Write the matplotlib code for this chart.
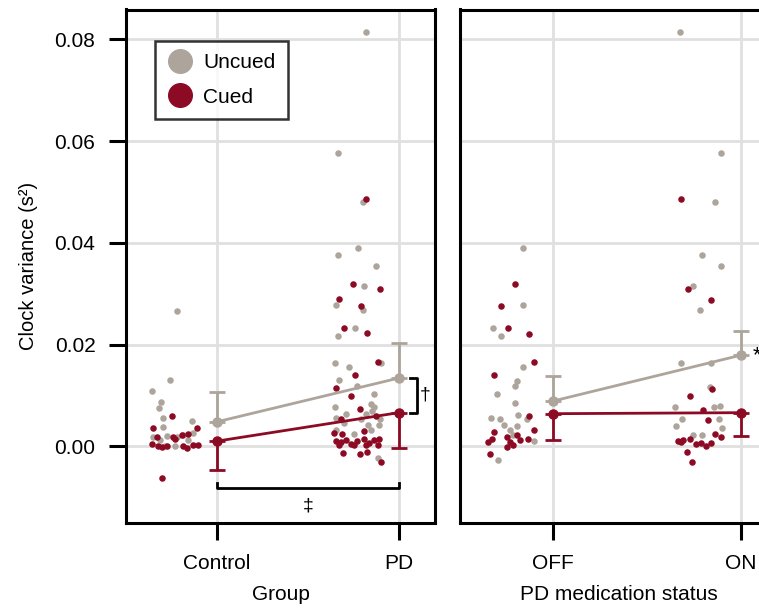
import numpy as np
import matplotlib
matplotlib.use("Agg")
from matplotlib import pyplot as plt

plt.rcParams['font.family'] = ['Liberation Sans', 'DejaVu Sans']

GRAY = "#ada59b"
RED = "#8c0a24"

# tick labels
groups = ["Control", "PD"]
meds = ["OFF", "ON"]

# raw points: (x jitter relative to first category, value)
ctrl_unc_x = [-0.218, -0.258, -0.357, -0.31, -0.317, -0.295, -0.138, -0.298, -0.35, -0.276,
              -0.221, -0.185, -0.129, -0.157, -0.313, -0.286, -0.23]
ctrl_unc_y = [0.0266, 0.0130, 0.0108, 0.0087, 0.0076, 0.0055, 0.0049, 0.0037, 0.0018, 0.0020,
              0.0018, 0.0022, 0.0026, 0.0012, 0.0012, 0.0, 0.0]
ctrl_cue_x = [-0.247, -0.35, -0.11, -0.328, -0.24, -0.232, -0.193, -0.157, -0.359, -0.323,
              -0.304, -0.276, -0.185, -0.166, -0.129, -0.102, -0.3]
ctrl_cue_y = [0.0060, 0.0036, 0.0035, 0.0018, 0.0018, 0.0014, 0.0022, 0.0024, 0.0004, 0.0001,
              -0.0001, 0.0001, 0.0001, -0.0003, 0.0002, 0.0002, -0.0062]

pd_unc_x = [0.818, 0.668, 0.805, 0.777, 0.665, 0.875, 0.807, 0.654, 0.803, 0.760, 0.666,
            0.902, 0.648, 0.727, 0.672, 0.773, 0.862, 0.648, 0.847, 0.865, 0.709, 0.819,
            0.851, 0.654, 0.792, 0.898, 0.7, 0.829, 0.893, 0.654, 0.755, 0.847, 0.887]
pd_unc_y = [0.0814, 0.0577, 0.0481, 0.0389, 0.0376, 0.0355, 0.0315, 0.0278, 0.0268, 0.0232, 0.0216,
            0.0163, 0.0164, 0.0155, 0.0131, 0.0119, 0.0102, 0.0077, 0.0084, 0.0077, 0.0063, 0.0063,
            0.0069, 0.0056, 0.0053, 0.0053, 0.0045, 0.0041, 0.0041, 0.0031, 0.0025, 0.0031, -0.0024]
pd_cue_x = [0.823, 0.749, 0.898, 0.672, 0.792, 0.698, 0.825, 0.884, 0.760, 0.657, 0.736, 0.788,
            0.875, 0.685, 0.644, 0.69, 0.807, 0.654, 0.681, 0.709, 0.736, 0.773, 0.81, 0.838,
            0.865, 0.893, 0.672, 0.755, 0.819, 0.884, 0.696, 0.788, 0.825, 0.902]
pd_cue_y = [0.0487, 0.0319, 0.0310, 0.0289, 0.0276, 0.0232, 0.0222, 0.0165, 0.0140, 0.0114, 0.0098, 0.0073,
            0.0060, 0.0053, 0.0026, 0.0025, 0.0030, 0.0010, 0.0008, 0.0012, 0.0005, 0.0010, 0.0015, 0.0007,
            0.0012, 0.0015, 0.0002, 0.0002, 0.0003, 0.0002, -0.0013, -0.0016, -0.0012, -0.0031]

off_unc_x = [-0.16, -0.16, -0.324, -0.28, -0.163, -0.195, -0.207, -0.3, -0.202, -0.333,
             -0.284, -0.191, -0.262, -0.195, -0.23, -0.138, -0.101, -0.213, -0.293]
off_unc_y = [0.0389, 0.0278, 0.0232, 0.0216, 0.0155, 0.0129, 0.0118, 0.0102, 0.0085, 0.0055,
             0.0054, 0.0062, 0.0042, 0.0040, 0.0031, 0.0053, 0.0010, 0.0022, -0.0028]
off_cue_x = [-0.205, -0.28, -0.243, -0.128, -0.101, -0.317, -0.131, -0.101, -0.319, -0.349,
             -0.328, -0.245, -0.23, -0.195, -0.177, -0.133, -0.245, -0.213, -0.34]
off_cue_y = [0.0319, 0.0276, 0.0232, 0.0221, 0.0165, 0.0140, 0.0059, 0.0031, 0.0028, 0.0008,
             0.0014, 0.0018, 0.0008, 0.0022, 0.0012, 0.0015, -0.0001, 0.0002, -0.0016]

on_unc_x = [0.676, 0.894, 0.864, 0.793, 0.897, 0.747, 0.784, 0.679, 0.844, 0.837,
            0.649, 0.86, 0.89, 0.688, 0.883, 0.656, 0.899, 0.745, 0.793]
on_unc_y = [0.0814, 0.0577, 0.0481, 0.0376, 0.0355, 0.0315, 0.0268, 0.0163, 0.0163, 0.0117,
            0.0077, 0.0077, 0.0079, 0.0054, 0.0054, 0.0040, 0.0036, 0.0022, 0.0022]
on_cue_x = [0.683, 0.72, 0.842, 0.849, 0.732, 0.798, 0.828, 0.864, 0.896, 0.665,
            0.691, 0.727, 0.763, 0.789, 0.816, 0.842, 0.716, 0.738, 0.679]
on_cue_y = [0.0487, 0.0310, 0.0287, 0.0113, 0.0098, 0.0072, 0.0051, 0.0025, 0.0018, 0.0010,
            0.0012, 0.0015, 0.0005, 0.0007, 0.0, 0.0007, -0.0012, -0.0032, 0.0008]

# estimated means with one-sided error bars
grp_unc_mean = [0.0048, 0.0134]
grp_unc_err = [0.0058, 0.0069]
grp_cue_mean = [0.0010, 0.0066]
grp_cue_err = [0.0057, 0.0070]
med_unc_mean = [0.0089, 0.0179]
med_unc_err = [0.0050, 0.0048]
med_cue_mean = [0.0064, 0.0066]
med_cue_err = [0.0051, 0.0046]

fig = plt.figure(figsize=(7.59, 6.08), dpi=100)
ax1 = fig.add_axes([126 / 759, 85 / 608, 309 / 759, 513.5 / 608])
ax2 = fig.add_axes([459.6 / 759, 85 / 608, 318.6 / 759, 513.5 / 608])


def panel(ax, unc_x, unc_y, cue_x, cue_y, um, ue, cm, ce):
    ax.scatter(unc_x, unc_y, s=22, color=GRAY, lw=0, zorder=3)
    ax.scatter(cue_x, cue_y, s=22, color=RED, lw=0, zorder=3)
    x = np.arange(2)
    ax.errorbar(x, um, yerr=[np.zeros(2), ue], color=GRAY, lw=2, marker="o", ms=6.5,
                capsize=6, capthick=2, elinewidth=2, zorder=4)
    ax.errorbar(x, cm, yerr=[ce, np.zeros(2)], color=RED, lw=2, marker="o", ms=6.5,
                capsize=6, capthick=2, elinewidth=2, zorder=4)
    ax.set_xlim(-0.5, 1.2)
    ax.set_ylim(-0.0151, 0.0859)
    ax.set_xticks(x)
    ax.set_yticks([0.0, 0.02, 0.04, 0.06, 0.08])
    ax.grid(True, color="#e0e0e0", lw=2)
    ax.set_axisbelow(True)
    for s in ax.spines.values():
        s.set_linewidth(2.2)
    ax.tick_params(length=12, width=2.2, pad=10, labelsize=15)


panel(ax1, ctrl_unc_x + pd_unc_x, ctrl_unc_y + pd_unc_y,
      ctrl_cue_x + pd_cue_x, ctrl_cue_y + pd_cue_y,
      grp_unc_mean, grp_unc_err, grp_cue_mean, grp_cue_err)
panel(ax2, off_unc_x + on_unc_x, off_unc_y + on_unc_y,
      off_cue_x + on_cue_x, off_cue_y + on_cue_y,
      med_unc_mean, med_unc_err, med_cue_mean, med_cue_err)

ax1.set_xticklabels(groups)
ax1.set_yticklabels(["0.00", "0.02", "0.04", "0.06", "0.08"])
ax2.set_xticklabels(meds)
ax2.tick_params(axis="y", left=False, labelleft=False)

ax1.set_ylabel("Clock variance (s²)", fontsize=14.5, labelpad=12)
ax1.set_xlabel("Group", fontsize=15, labelpad=9)
ax2.set_xlabel("PD medication status", fontsize=15, labelpad=9)

# significance markers
ax1.plot([0, 0, 1, 1], [-0.0072, -0.0083, -0.0083, -0.0072], color="black", lw=2,
         clip_on=False, zorder=5)
ax1.text(0.5, -0.0117, "‡", ha="center", va="center", fontsize=14)
ax1.plot([1.062, 1.101, 1.101, 1.062], [0.0134, 0.0134, 0.0066, 0.0066], color="black",
         lw=2, clip_on=False, zorder=5)
ax1.text(1.145, 0.0100, "†", ha="center", va="center", fontsize=14)
ax2.text(1.085, 0.0179, "*", ha="center", va="center", fontsize=16)

leg_h = [plt.Line2D([], [], ls="", marker="o", ms=17, color=GRAY),
         plt.Line2D([], [], ls="", marker="o", ms=17, color=RED)]
leg = ax1.legend(leg_h, ["Uncued", "Cued"], loc="upper left",
                 bbox_to_anchor=(29 / 309, 1 - 31 / 513.5), borderaxespad=0,
                 fontsize=15, frameon=True, fancybox=False, handletextpad=0.5,
                 borderpad=0.6, labelspacing=0.75, handlelength=1.2)
leg.get_frame().set_edgecolor("black")
leg.get_frame().set_linewidth(1.8)

fig.savefig("out.png", dpi=100)
